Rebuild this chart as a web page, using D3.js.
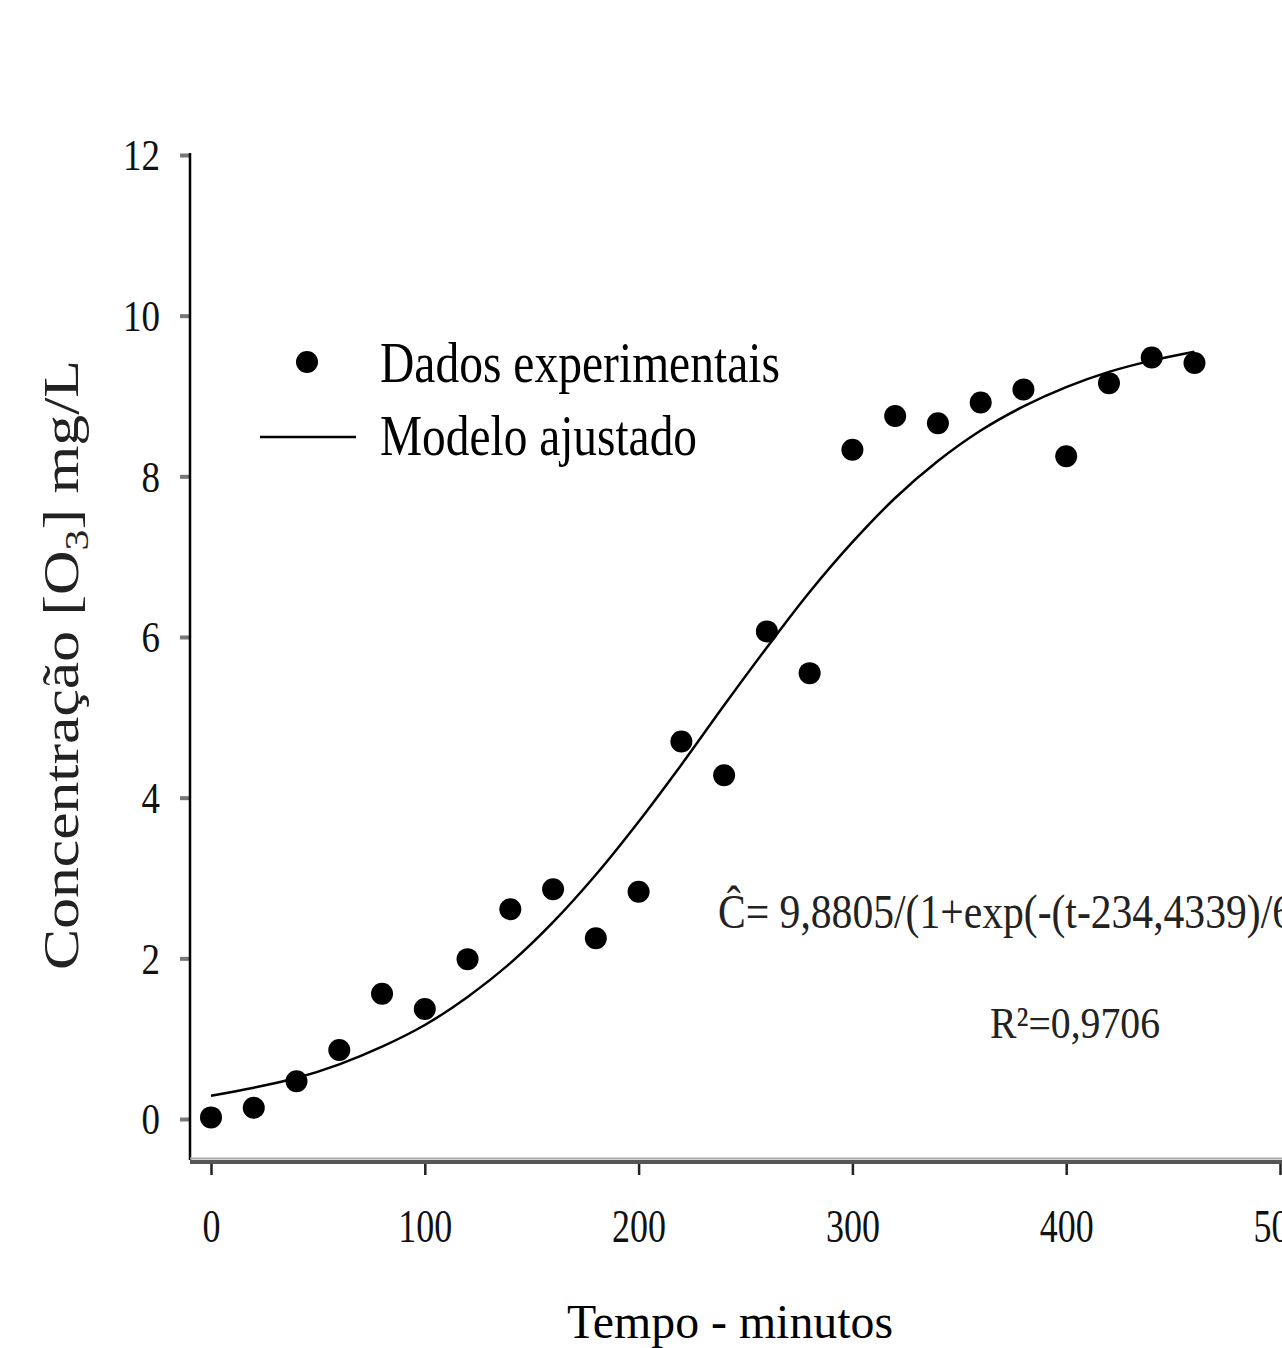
<!DOCTYPE html>
<html>
<head>
<meta charset="utf-8">
<script src="https://cdn.jsdelivr.net/npm/d3@7"></script>
<style>
  body { margin: 0; background: #fff; }
  svg { display: block; }
</style>
</head>
<body>
<div id="chart"></div>
<script>
var tempo = [0, 20, 40, 60, 80, 100, 120, 140, 160, 180, 200, 220, 240, 260, 280, 300, 320, 340, 360, 380, 400, 420, 440, 460];
var concentracao = [0.02, 0.14, 0.47, 0.86, 1.56, 1.37, 1.99, 2.61, 2.86, 2.25, 2.83, 4.70, 4.28, 6.07, 5.55, 8.33, 8.75, 8.66, 8.92, 9.08, 8.25, 9.16, 9.48, 9.41];

// fitted model curve, read at the same times
var modeloT = [0, 20, 40, 60, 80, 100, 120, 140, 160, 180, 200, 220, 240, 260, 280, 300, 320, 340, 360, 380, 400, 420, 440, 460];
var modeloC = [0.29, 0.39, 0.51, 0.68, 0.90, 1.17, 1.52, 1.94, 2.45, 3.04, 3.70, 4.41, 5.15, 5.87, 6.56, 7.18, 7.73, 8.19, 8.57, 8.87, 9.11, 9.30, 9.44, 9.55];

var xTicks = [0, 100, 200, 300, 400, 500];
var yTicks = [0, 2, 4, 6, 8, 10, 12];

var W = 1282, H = 1348;
var serif = "'Liberation Serif', 'DejaVu Serif', serif";

var svg = d3.select('#chart').append('svg')
    .attr('width', W)
    .attr('height', H)
    .style('background', '#fff');

var x = d3.scaleLinear().domain([0, 500]).range([211, 1280]);
var y = d3.scaleLinear().domain([0, 12]).range([1119, 155]);

// y axis
var yAxis = d3.axisLeft(y).tickValues(yTicks).tickSize(10).tickPadding(20);
var gy = svg.append('g').attr('transform', 'translate(190,0)').call(yAxis);
gy.select('.domain').remove();
gy.selectAll('.tick line').attr('stroke', '#777').attr('stroke-width', 4);
gy.selectAll('.tick text')
    .style('font-family', serif)
    .style('font-size', '44px')
    .attr('fill', '#111')
    .attr('dy', '0.34em')
    .attr('textLength', d => String(d).length * 18.5)
    .attr('lengthAdjust', 'spacingAndGlyphs');

svg.append('line')
    .attr('x1', 190).attr('x2', 190)
    .attr('y1', 153).attr('y2', 1160)
    .attr('stroke', '#000').attr('stroke-width', 2.5);

// x axis
var xAxis = d3.axisBottom(x).tickValues(xTicks).tickSize(14).tickPadding(0);
var gx = svg.append('g').attr('transform', 'translate(0,1161)').call(xAxis);
gx.select('.domain').remove();
gx.selectAll('.tick line').attr('stroke', '#222').attr('stroke-width', 2.5);
gx.selectAll('.tick text')
    .style('font-family', serif)
    .style('font-size', '46px')
    .attr('fill', '#111')
    .attr('y', 81)
    .attr('dy', 0)
    .attr('textLength', d => String(d).length * 18)
    .attr('lengthAdjust', 'spacingAndGlyphs');

svg.append('line')
    .attr('x1', 190).attr('x2', W)
    .attr('y1', 1162).attr('y2', 1162)
    .attr('stroke', '#555').attr('stroke-width', 4);
svg.append('line')
    .attr('x1', 190).attr('x2', W)
    .attr('y1', 1158.5).attr('y2', 1158.5)
    .attr('stroke', '#aaa').attr('stroke-width', 2);

// model curve
var line = d3.line()
    .x((d, i) => x(modeloT[i]))
    .y(d => y(d))
    .curve(d3.curveCatmullRom);

svg.append('path')
    .datum(modeloC)
    .attr('d', line)
    .attr('fill', 'none')
    .attr('stroke', '#000')
    .attr('stroke-width', 2.5);

// points
svg.append('g').selectAll('circle')
    .data(concentracao)
    .join('circle')
    .attr('cx', (d, i) => x(tempo[i]))
    .attr('cy', d => y(d))
    .attr('r', 11)
    .attr('fill', '#000');

// legend
svg.append('circle').attr('cx', 307).attr('cy', 362).attr('r', 11).attr('fill', '#000');
svg.append('text')
    .attr('x', 380).attr('y', 382)
    .style('font-family', serif).style('font-size', '56px')
    .attr('textLength', 400).attr('lengthAdjust', 'spacingAndGlyphs')
    .text('Dados experimentais');

svg.append('line')
    .attr('x1', 260).attr('x2', 356)
    .attr('y1', 437).attr('y2', 437)
    .attr('stroke', '#000').attr('stroke-width', 2.5);
svg.append('text')
    .attr('x', 380).attr('y', 455)
    .style('font-family', serif).style('font-size', '56px')
    .attr('textLength', 317).attr('lengthAdjust', 'spacingAndGlyphs')
    .text('Modelo ajustado');

// equation
svg.append('text')
    .attr('x', 718).attr('y', 928)
    .style('font-family', serif).style('font-size', '48px')
    .attr('fill', '#222')
    .attr('textLength', 575).attr('lengthAdjust', 'spacingAndGlyphs')
    .text('Ĉ= 9,8805/(1+exp(-(t-234,4339)/6');

svg.append('text')
    .attr('x', 990).attr('y', 1038)
    .style('font-family', serif).style('font-size', '44px')
    .attr('fill', '#222')
    .attr('textLength', 170).attr('lengthAdjust', 'spacingAndGlyphs')
    .text('R²=0,9706');

// axis titles
svg.append('text')
    .attr('x', 730).attr('y', 1338)
    .attr('text-anchor', 'middle')
    .style('font-family', serif).style('font-size', '48px')
    .attr('textLength', 326).attr('lengthAdjust', 'spacingAndGlyphs')
    .text('Tempo - minutos');

var yt = svg.append('text')
    .attr('transform', 'translate(78,665) rotate(-90)')
    .attr('text-anchor', 'middle')
    .style('font-family', serif).style('font-size', '50px')
    .attr('fill', '#222')
    .attr('textLength', 610).attr('lengthAdjust', 'spacingAndGlyphs');
yt.append('tspan').text('Concentração [O');
yt.append('tspan').attr('dy', 10).style('font-size', '34px').text('3');
yt.append('tspan').attr('dy', -10).text('] mg/L');
</script>
</body>
</html>
